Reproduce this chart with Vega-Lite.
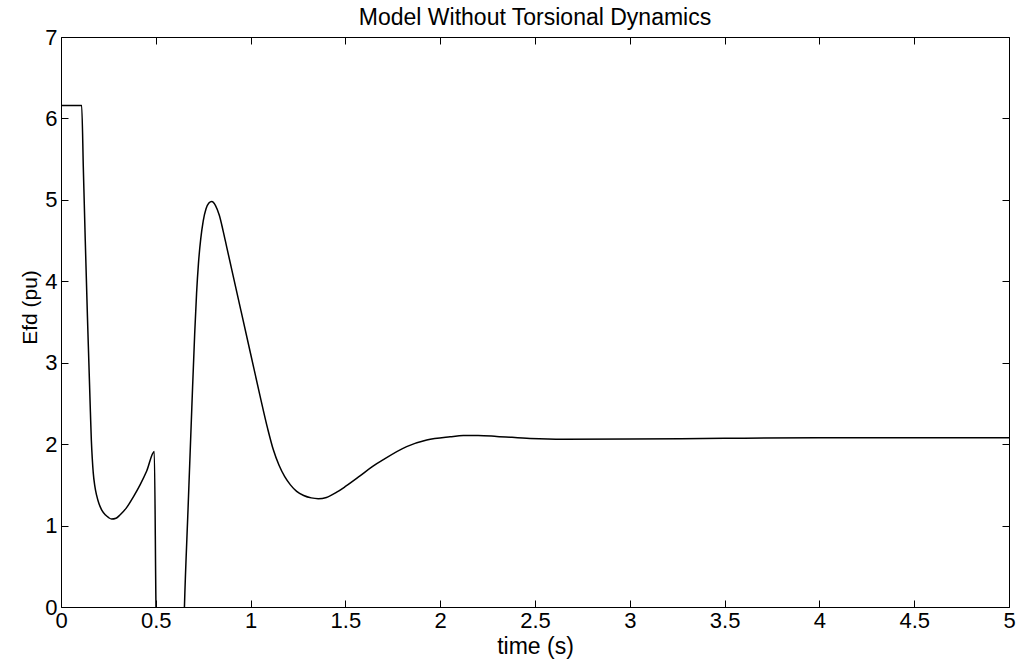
{
  "$schema": "https://vega.github.io/schema/vega-lite/v6.json",
  "width": 948,
  "height": 570,
  "autosize": {"type": "none"},
  "padding": {"left": 61, "top": 37, "right": 12, "bottom": 54},
  "background": "white",
  "config": {
    "font": "Liberation Sans",
    "view": {"stroke": "black", "strokeWidth": 1},
    "axis": {"grid": false, "domain": false, "tickColor": "black", "labelColor": "black", "titleColor": "black", "labelFont": "Liberation Sans", "titleFont": "Liberation Sans", "labelFontSize": 22, "titleFontSize": 22, "titleFontWeight": "normal", "tickSize": -7, "tickWidth": 1, "labelFlush": false}
  },
  "title": {"text": "Model Without Torsional Dynamics", "fontSize": 23, "fontWeight": "normal", "font": "Liberation Sans", "color": "black", "anchor": "middle", "offset": -4},
  "data": {"values": [
    {"t": 0, "v": 6.16},
    {"t": 0.109, "v": 6.16},
    {"t": 0.118, "v": 5.37},
    {"t": 0.128, "v": 4.5},
    {"t": 0.139, "v": 3.6},
    {"t": 0.147, "v": 3.0},
    {"t": 0.155, "v": 2.40},
    {"t": 0.160, "v": 2.05},
    {"t": 0.165, "v": 1.82},
    {"t": 0.170, "v": 1.65},
    {"t": 0.178, "v": 1.49},
    {"t": 0.188, "v": 1.37},
    {"t": 0.200, "v": 1.27},
    {"t": 0.215, "v": 1.19},
    {"t": 0.235, "v": 1.13},
    {"t": 0.250, "v": 1.10},
    {"t": 0.267, "v": 1.08},
    {"t": 0.290, "v": 1.09},
    {"t": 0.311, "v": 1.13},
    {"t": 0.346, "v": 1.22},
    {"t": 0.381, "v": 1.35},
    {"t": 0.417, "v": 1.50},
    {"t": 0.452, "v": 1.67},
    {"t": 0.492, "v": 1.91},
    {"t": 0.501, "v": 0},
    {"t": 0.51, "v": -1},
    {"t": 0.64, "v": -1},
    {"t": 0.651, "v": 0},
    {"t": 0.670, "v": 1.20},
    {"t": 0.690, "v": 2.45},
    {"t": 0.705, "v": 3.35},
    {"t": 0.715, "v": 3.85},
    {"t": 0.725, "v": 4.22},
    {"t": 0.737, "v": 4.52},
    {"t": 0.750, "v": 4.74},
    {"t": 0.765, "v": 4.89},
    {"t": 0.780, "v": 4.96},
    {"t": 0.795, "v": 4.98},
    {"t": 0.815, "v": 4.93},
    {"t": 0.835, "v": 4.81},
    {"t": 0.855, "v": 4.62},
    {"t": 0.875, "v": 4.41},
    {"t": 0.90, "v": 4.15},
    {"t": 0.95, "v": 3.63},
    {"t": 1.00, "v": 3.11},
    {"t": 1.05, "v": 2.59},
    {"t": 1.09, "v": 2.19},
    {"t": 1.12, "v": 1.93},
    {"t": 1.15, "v": 1.74},
    {"t": 1.18, "v": 1.60},
    {"t": 1.21, "v": 1.50},
    {"t": 1.243, "v": 1.42},
    {"t": 1.28, "v": 1.37},
    {"t": 1.32, "v": 1.34},
    {"t": 1.357, "v": 1.33},
    {"t": 1.40, "v": 1.345},
    {"t": 1.454, "v": 1.41},
    {"t": 1.50, "v": 1.48},
    {"t": 1.577, "v": 1.61},
    {"t": 1.64, "v": 1.72},
    {"t": 1.700, "v": 1.81},
    {"t": 1.823, "v": 1.97},
    {"t": 1.929, "v": 2.05},
    {"t": 2.052, "v": 2.09},
    {"t": 2.122, "v": 2.105},
    {"t": 2.20, "v": 2.105},
    {"t": 2.298, "v": 2.095},
    {"t": 2.474, "v": 2.07},
    {"t": 2.649, "v": 2.06},
    {"t": 3.0, "v": 2.063},
    {"t": 3.5, "v": 2.072},
    {"t": 4.0, "v": 2.078},
    {"t": 5.0, "v": 2.078}
  ]},
  "layer": [
    {
      "mark": {"type": "line", "color": "black", "strokeWidth": 1.5, "clip": true, "interpolate": "monotone"},
      "encoding": {
        "x": {"field": "t", "type": "quantitative", "scale": {"domain": [0, 5], "nice": false, "zero": false}, "axis": {"orient": "bottom", "title": "time (s)", "titleFontSize": 23, "values": [0, 0.5, 1, 1.5, 2, 2.5, 3, 3.5, 4, 4.5, 5], "labelExpr": "datum.value", "labelPadding": 10, "titlePadding": 4}},
        "y": {"field": "v", "type": "quantitative", "scale": {"domain": [0, 7], "nice": false}, "axis": {"orient": "left", "title": "Efd (pu)", "titleFontSize": 21, "values": [0, 1, 2, 3, 4, 5, 6, 7], "labelPadding": 11, "titlePadding": 4, "titleY": 270}}
      }
    },
    {
      "mark": {"type": "line", "opacity": 0},
      "encoding": {
        "x": {"field": "t", "type": "quantitative", "axis": {"orient": "top", "title": null, "labels": false, "values": [0, 0.5, 1, 1.5, 2, 2.5, 3, 3.5, 4, 4.5, 5]}},
        "y": {"field": "v", "type": "quantitative", "axis": {"orient": "right", "title": null, "labels": false, "values": [0, 1, 2, 3, 4, 5, 6, 7]}}
      }
    }
  ],
  "resolve": {"axis": {"x": "independent", "y": "independent"}}
}
